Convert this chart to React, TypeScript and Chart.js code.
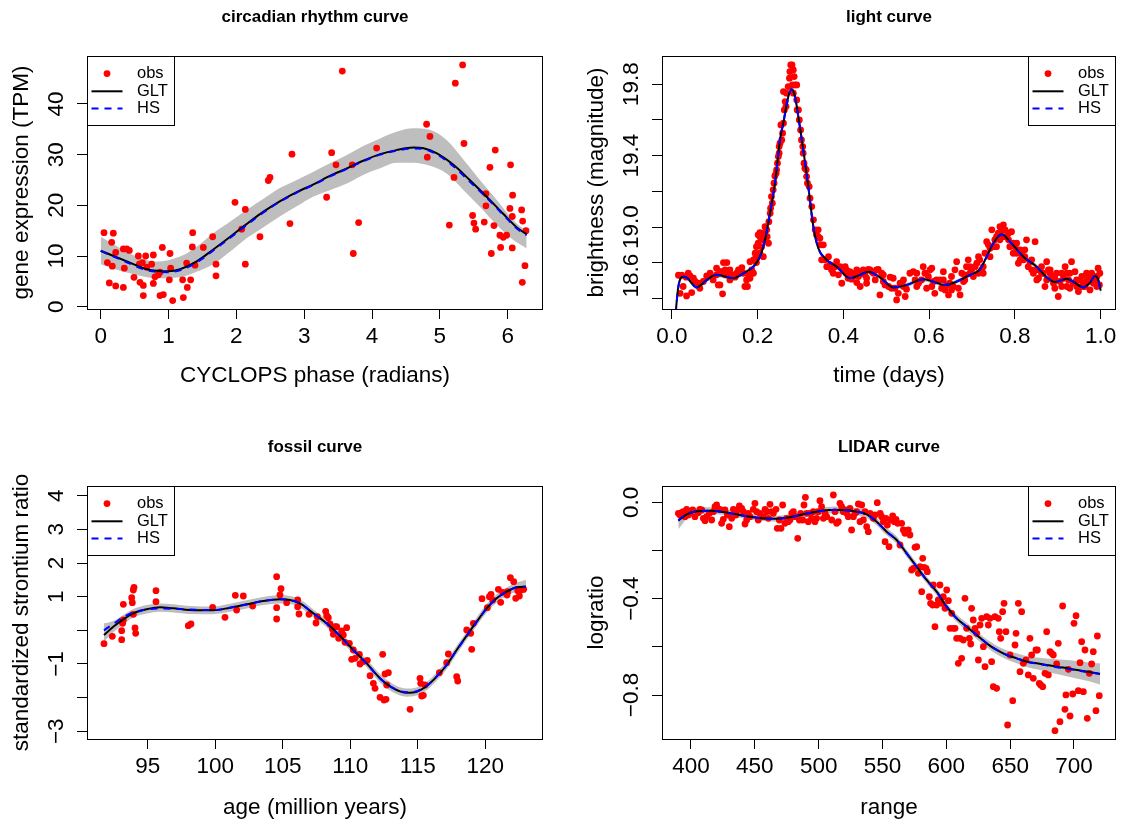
import React, { useEffect, useRef } from "react";
import { Chart, registerables } from "chart.js";

Chart.register(...registerables);

const FONT = "'Liberation Sans', Arial, Helvetica, sans-serif";
Chart.defaults.font.family = FONT;
Chart.defaults.color = "#000";

/* ===================== DATA ===================== */

// ---- circadian rhythm curve ----
const circadianObs: [number, number][] = [
  [0.049,14.6],[0.186,14.5],[0.162,12.7],[0.098,8.7],[0.171,8.0],[0.127,4.7],[0.221,4.1],[0.334,3.8],
  [0.221,10.7],[0.334,11.4],[0.383,11.4],[0.422,11.1],[0.348,7.6],[0.491,5.8],[0.555,10.0],[0.57,8.4],
  [0.579,4.8],[0.628,4.2],[0.628,2.2],[0.663,10.0],[0.614,8.7],[0.678,7.8],[0.751,8.4],[0.776,10.2],
  [0.776,4.6],[0.8,5.9],[0.85,6.3],[0.874,6.8],[0.874,2.2],[0.923,2.4],[0.909,11.7],[1.012,5.3],
  [1.022,10.5],[1.031,7.6],[1.061,1.2],[1.208,5.3],[1.218,1.8],[1.267,8.6],[1.277,3.8],[1.326,5.3],
  [1.356,14.6],[1.351,11.8],[1.39,8.2],[1.513,11.7],[1.651,13.8],[1.7,8.4],[1.7,6.1],[1.98,20.6],
  [2.078,15.3],[2.132,19.2],[2.132,8.4],[2.348,13.8],[2.471,24.9],[2.496,25.5],[2.79,16.4],[2.82,30.1],
  [3.331,21.6],[3.405,30.4],[3.469,28.0],[3.562,46.5],[3.709,28.0],[3.724,10.5],[3.803,16.6],[4.068,31.3],
  [4.805,36.0],[4.854,33.6],[4.815,29.5],[5.14,16.1],[5.209,25.5],[5.228,44.1],[5.336,47.7],[5.356,32.2],
  [5.483,18.0],[5.503,16.5],[5.528,15.3],[5.655,16.7],[5.68,22.3],[5.68,19.9],[5.739,27.5],[5.759,10.5],
  [5.798,16.0],[5.817,30.9],[5.886,14.1],[5.896,11.7],[5.935,13.7],[5.984,14.1],[6.033,19.4],[6.043,28.0],
  [6.068,17.8],[6.068,11.6],[6.073,22.0],[6.206,19.1],[6.221,16.9],[6.216,4.8],[6.255,8.1],[6.27,15.0],
];
const circadianFitX = [0,0.19,0.43,0.68,1.0,1.17,1.41,1.66,1.91,2.15,2.40,2.64,2.89,3.13,3.38,3.63,3.87,4.12,4.36,4.61,4.76,4.95,5.2,5.44,5.69,5.93,6.13,6.28];
const circadianGLT = [11.05,10.0,8.7,7.4,7.0,7.4,8.9,11.3,13.8,16.3,18.75,20.8,22.6,24.1,25.8,27.3,28.8,30.1,30.9,31.4,31.25,30.3,28.0,25.0,21.7,18.4,15.7,14.3];
const circadianHS = [11.0,9.9,8.5,7.2,6.8,7.2,8.7,11.1,13.6,16.1,18.6,20.7,22.5,24.0,25.7,27.2,28.7,30.0,30.8,31.2,31.1,30.1,27.7,24.7,21.5,18.2,15.5,14.1];
const circadianBandX = [0,0.19,0.43,0.825,1.17,1.41,1.66,1.91,2.15,2.40,2.64,2.89,3.13,3.38,3.63,3.87,4.12,4.36,4.61,4.85,5.1,5.35,5.59,5.84,6.08,6.28];
const circadianBandLo = [8.4,7.5,6.6,5.6,5.8,6.9,8.4,10.9,13.5,15.7,17.8,19.8,21.7,23.0,24.3,26.0,27.3,28.4,28.4,27.8,26.3,23.0,19.7,16.1,13.2,11.5];
const circadianBandHi = [13.8,12.3,10.5,8.9,9.9,11.8,14.5,16.8,19.1,21.3,23.4,25.0,26.6,28.3,29.95,31.7,33.2,34.5,35.2,34.9,32.9,29.0,25.0,21.05,17.1,14.8];
const circadianXTicks = [0,1,2,3,4,5,6];
const circadianXLabels = ["0","1","2","3","4","5","6"];
const circadianYTicks = [0,10,20,30,40];
const circadianYLabels = ["0","10","20","30","40"];

// ---- light curve ----
const lightObs: [number, number][] = [
  [0.015,18.731],[0.023,18.731],[0.033,18.72],[0.042,18.727],[0.026,18.668],[0.034,18.615],[0.046,18.634],[0.019,18.63],
  [0.05,18.714],[0.054,18.696],[0.061,18.686],[0.038,18.742],[0.065,18.658],[0.073,18.696],[0.081,18.727],[0.089,18.742],
  [0.096,18.705],[0.104,18.733],[0.108,18.677],[0.116,18.751],[0.12,18.802],[0.128,18.802],[0.124,18.761],[0.131,18.742],
  [0.135,18.705],[0.118,18.627],[0.112,18.677],[0.143,18.733],[0.151,18.742],[0.159,18.761],[0.163,18.774],[0.166,18.742],
  [0.17,18.668],[0.174,18.705],[0.178,18.733],[0.182,18.714],[0.186,18.761],[0.19,18.817],[0.197,18.802],[0.194,18.854],
  [0.197,18.891],[0.201,18.91],[0.205,18.947],[0.209,18.966],[0.213,18.929],[0.221,18.985],[0.225,18.91],[0.217,18.957],
  [0.205,18.854],[0.213,18.835],[0.205,18.97],
  [0.229,19.078],[0.23,19.106],[0.232,19.171],[0.236,19.209],[0.238,19.246],[0.24,19.287],[0.243,19.302],[0.244,19.321],
  [0.248,19.395],[0.25,19.451],[0.252,19.47],[0.256,19.488],[0.254,19.572],[0.26,19.582],[0.262,19.656],[0.264,19.703],
  [0.26,19.759],[0.267,19.75],[0.271,19.787],[0.274,19.834],[0.275,19.871],[0.277,19.908],[0.28,19.908],[0.283,19.88],
  [0.281,19.796],[0.287,19.796],[0.291,19.796],[0.283,19.75],[0.291,19.712],[0.292,19.656],[0.297,19.6],[0.3,19.544],
  [0.302,19.488],[0.306,19.414],[0.308,19.358],[0.31,19.33],[0.314,19.283],[0.316,19.246],[0.32,19.227],[0.322,19.162],
  [0.334,18.985],[0.337,18.957],[0.341,18.985],[0.345,18.938],[0.353,18.901],[0.349,18.817],[0.357,18.817],[0.361,18.779],
  [0.369,18.789],[0.372,18.761],[0.376,18.742],[0.38,18.779],[0.384,18.807],[0.388,18.733],[0.392,18.779],[0.4,18.758],
  [0.404,18.779],[0.407,18.742],[0.411,18.714],[0.415,18.751],[0.419,18.709],[0.423,18.724],[0.427,18.742],[0.431,18.69],
  [0.435,18.724],[0.439,18.668],[0.442,18.742],[0.446,18.761],[0.45,18.733],[0.454,18.714],[0.458,18.764],[0.462,18.761],
  [0.466,18.751],[0.47,18.742],[0.474,18.705],[0.477,18.761],[0.481,18.764],[0.485,18.621],[0.489,18.742],[0.493,18.696],
  [0.497,18.677],[0.505,18.668],[0.509,18.72],[0.512,18.658],[0.516,18.714],[0.52,18.658],[0.524,18.593],[0.528,18.63],
  [0.532,18.686],[0.54,18.668],[0.544,18.612],[0.547,18.653],[0.555,18.742],[0.563,18.751],[0.567,18.705],[0.571,18.668],
  [0.575,18.686],[0.582,18.705],[0.586,18.779],[0.59,18.742],[0.594,18.658],[0.598,18.724],[0.602,18.761],[0.606,18.77],
  [0.61,18.696],[0.613,18.63],[0.617,18.705],[0.625,18.705],[0.629,18.658],[0.633,18.751],[0.637,18.649],[0.641,18.677],
  [0.645,18.621],[0.648,18.686],[0.652,18.724],[0.656,18.668],[0.66,18.761],[0.664,18.807],[0.668,18.658],[0.672,18.621],
  [0.676,18.742],[0.68,18.696],[0.683,18.733],[0.687,18.779],[0.691,18.817],[0.695,18.742],[0.699,18.761],[0.703,18.724],
  [0.707,18.779],[0.711,18.798],[0.715,18.835],[0.718,18.817],[0.722,18.761],[0.726,18.779],[0.73,18.854],[0.734,18.919],
  [0.738,18.901],[0.742,18.882],[0.746,18.985],[0.75,18.891],[0.753,18.929],[0.757,18.947],[0.761,18.966],[0.765,19.003],
  [0.769,18.985],[0.773,19.013],[0.777,18.985],[0.781,18.947],[0.785,18.929],[0.788,18.891],[0.792,18.975],[0.796,18.91],
  [0.8,18.891],[0.804,18.854],[0.808,18.798],[0.812,18.873],[0.816,18.845],[0.82,18.817],[0.823,18.873],[0.827,18.929],
  [0.831,18.779],[0.835,18.807],[0.839,18.761],[0.843,18.742],[0.847,18.919],[0.851,18.705],[0.855,18.714],[0.858,18.761],
  [0.862,18.779],[0.866,18.742],[0.87,18.668],[0.874,18.807],[0.878,18.761],[0.882,18.742],[0.886,18.724],[0.89,18.686],
  [0.893,18.658],[0.897,18.742],[0.901,18.612],[0.905,18.696],[0.909,18.668],[0.913,18.714],[0.917,18.779],[0.921,18.742],
  [0.925,18.705],[0.928,18.658],[0.932,18.807],[0.936,18.686],[0.94,18.751],[0.944,18.668],[0.948,18.64],[0.952,18.705],
  [0.956,18.724],[0.96,18.686],[0.963,18.668],[0.967,18.696],[0.971,18.714],[0.975,18.649],[0.979,18.742],[0.983,18.686],
  [0.987,18.696],[0.991,18.724],[0.994,18.77],[0.998,18.742],[0.997,18.677],
  [0.104,18.77],[0.112,18.751],[0.124,18.733],[0.135,18.761],[0.147,18.72],[0.155,18.761],[0.176,18.668],[0.19,18.742],
  [0.182,18.807],[0.196,18.835],[0.201,18.957],[0.209,18.891],[0.217,19.003],[0.222,18.947],[0.226,19.031],[0.234,19.134],
  [0.246,19.358],[0.25,19.414],[0.258,19.526],[0.266,19.675],[0.285,19.843],[0.295,19.656],[0.305,19.451],[0.313,19.321],
  [0.326,19.115],[0.33,19.041],[0.341,18.947],[0.347,18.901],[0.365,18.835],[0.375,18.779],[0.396,18.686],[0.407,18.761],
  [0.431,18.761],[0.454,18.686],[0.493,18.733],[0.54,18.705],[0.571,18.742],[0.606,18.668],[0.633,18.705],[0.652,18.649],
  [0.683,18.705],[0.695,18.779],[0.715,18.742],[0.726,18.742],[0.742,18.835],[0.757,18.891],[0.765,18.929],[0.773,18.947],
  [0.785,18.966],[0.796,18.854],[0.804,18.91],[0.812,18.817],[0.823,18.835],[0.839,18.817],[0.851,18.761],[0.862,18.742],
  [0.874,18.705],[0.882,18.761],[0.893,18.714],[0.909,18.742],[0.921,18.668],[0.928,18.742],[0.944,18.705],[0.956,18.668],
  [0.967,18.742],[0.983,18.724],[0.991,18.668],
];
const lightFitX = [0.006,0.0148,0.0264,0.034,0.0575,0.0809,0.1042,0.143,0.1664,0.1897,0.2053,0.217,0.2286,0.2403,0.2519,0.2597,0.2714,0.2791,0.2869,0.2947,0.3064,0.318,0.3297,0.3413,0.3608,0.3841,0.4152,0.4385,0.458,0.4852,0.5163,0.5474,0.5863,0.6096,0.6368,0.664,0.6951,0.7185,0.734,0.7496,0.769,0.7884,0.8195,0.8506,0.874,0.8934,0.9206,0.9362,0.9595,0.975,0.9867,0.9945,1.0];
const lightGLT = [18.45,18.667,18.723,18.719,18.663,18.704,18.733,18.714,18.742,18.779,18.835,18.929,19.078,19.246,19.488,19.582,19.731,19.772,19.731,19.619,19.432,19.227,19.003,18.882,18.817,18.779,18.714,18.733,18.751,18.719,18.663,18.676,18.708,18.695,18.676,18.695,18.733,18.764,18.835,18.910,18.960,18.919,18.835,18.779,18.719,18.693,18.712,18.695,18.663,18.689,18.727,18.705,18.645];
const lightHS = [18.44,18.665,18.722,18.718,18.664,18.703,18.732,18.715,18.741,18.778,18.834,18.93,19.08,19.248,19.49,19.584,19.732,19.771,19.729,19.617,19.43,19.226,19.004,18.883,18.816,18.778,18.715,18.732,18.75,18.718,18.664,18.677,18.707,18.694,18.677,18.696,18.732,18.763,18.834,18.911,18.958,18.918,18.834,18.778,18.72,18.694,18.711,18.694,18.664,18.69,18.726,18.704,18.64];
const lightBandLo = [18.42,18.652,18.71,18.706,18.652,18.692,18.721,18.703,18.731,18.767,18.822,18.915,19.062,19.229,19.47,19.565,19.713,19.754,19.713,19.601,19.415,19.211,18.989,18.869,18.805,18.767,18.702,18.721,18.739,18.707,18.651,18.664,18.696,18.683,18.664,18.683,18.721,18.752,18.822,18.897,18.946,18.905,18.822,18.766,18.706,18.68,18.699,18.682,18.648,18.673,18.71,18.686,18.615];
const lightBandHi = [18.48,18.682,18.736,18.732,18.674,18.716,18.745,18.725,18.753,18.791,18.848,18.943,19.094,19.263,19.506,19.599,19.749,19.79,19.749,19.637,19.449,19.243,19.017,18.895,18.829,18.791,18.726,18.745,18.763,18.731,18.675,18.688,18.72,18.707,18.688,18.707,18.745,18.776,18.848,18.923,18.974,18.933,18.848,18.792,18.732,18.706,18.725,18.708,18.678,18.705,18.744,18.724,18.675];
const lightXTicks = [0,0.2,0.4,0.6,0.8,1.0];
const lightXLabels = ["0.0","0.2","0.4","0.6","0.8","1.0"];
// the "18.6" label sits a little above its tick in the original figure
const lightYTicks = [18.6,18.729,18.8,19.0,19.2,19.4,19.6,19.8];
const lightYLabels = ["","18.6","","19.0","","19.4","","19.8"];

// ---- fossil curve ----
const fossilObs: [number, number][] = [
  [91.764,-0.396],[92.381,-0.178],[93.072,-0.277],[93.072,-0.010],[93.146,0.208],[93.196,0.307],[93.196,0.772],[93.813,0.970],
  [93.862,0.822],[93.936,1.198],[93.986,1.277],[94.06,0.069],[94.109,-0.089],[93.936,0.475],[95.613,1.178],[95.613,0.851],
  [98.007,0.138],[98.205,0.188],[99.81,0.683],[100.723,0.386],[101.489,1.040],[101.587,0.604],[102.081,1.020],[102.772,0.723],
  [104.549,1.594],[104.549,0.673],[104.549,0.337],[104.796,1.050],[104.872,1.238],[105.291,0.822],[106.106,0.901],[106.106,0.703],
  [106.205,0.485],[106.946,0.475],[107.464,0.218],[107.563,0.406],[108.18,0.564],[108.254,0.436],[108.377,0.376],[108.5,0.188],
  [108.673,0.039],[108.747,-0.119],[108.87,0.109],[108.994,0.109],[109.142,-0.238],[109.364,-0.020],[109.488,-0.139],[109.735,0.079],
  [109.612,-0.357],[109.933,-0.386],[110.105,-0.862],[110.229,-0.585],[110.353,-0.832],[110.674,-0.714],[110.723,-1.0],[110.921,-0.931],
  [111.266,-0.892],[111.464,-1.347],[111.71,-1.575],[111.834,-1.724],[112.205,-1.991],[112.402,-0.714],[112.5,-2.070],[112.575,-1.298],
  [112.649,-2.050],[112.822,-1.258],[112.7,-1.625],[114.428,-2.348],[115.166,-1.426],[115.216,-1.575],[115.29,-1.951],[115.537,-1.625],
  [115.413,-1.932],[116.598,-1.258],[117.141,-0.961],[117.264,-0.704],[117.882,-1.377],[117.956,-1.506],[118.622,0.010],[118.918,-0.089],
  [118.992,-0.565],[119.116,0.208],[119.757,0.941],[120.153,0.673],[120.301,1.0],[120.424,1.069],[120.548,0.901],[121.14,0.832],
  [120.968,1.218],[121.289,1.129],[121.61,1.050],[121.66,1.149],[121.857,1.565],[122.104,1.446],[122.252,0.951],[122.4,1.178],
  [122.523,1.020],[122.647,1.198],[122.844,1.218],
];
const fossilFitX = [91.76,92.455,93.196,93.936,94.923,95.911,96.898,98.132,99.86,101.094,102.328,103.562,104.797,105.537,106.278,107.265,108.253,109.24,110.227,111.215,112.202,113.19,114.177,114.918,115.658,116.399,117.14,117.88,118.621,119.361,120.102,120.842,121.583,122.323,123.014];
const fossilGLT = [-0.139,0.109,0.327,0.505,0.624,0.683,0.653,0.604,0.594,0.673,0.772,0.871,0.921,0.901,0.802,0.505,0.208,-0.159,-0.585,-0.981,-1.426,-1.724,-1.852,-1.823,-1.655,-1.377,-1.03,-0.585,-0.159,0.257,0.653,0.951,1.149,1.278,1.298];
const fossilHS = [0.0,0.19,0.39,0.53,0.62,0.65,0.64,0.62,0.6,0.67,0.77,0.87,0.92,0.9,0.8,0.5,0.2,-0.17,-0.59,-0.99,-1.43,-1.72,-1.84,-1.81,-1.65,-1.37,-1.03,-0.59,-0.17,0.25,0.65,0.95,1.15,1.28,1.3];
const fossilBandLo = [-0.338,-0.06,0.187,0.38,0.5,0.555,0.53,0.485,0.48,0.55,0.65,0.75,0.80,0.78,0.68,0.385,0.09,-0.288,-0.70,-1.10,-1.55,-1.85,-1.97,-1.94,-1.78,-1.5,-1.16,-0.71,-0.28,0.13,0.52,0.83,1.02,1.13,1.12];
const fossilBandHi = [0.207,0.28,0.455,0.63,0.75,0.8,0.775,0.723,0.71,0.79,0.89,0.99,1.05,1.02,0.92,0.62,0.32,-0.04,-0.47,-0.86,-1.3,-1.6,-1.73,-1.70,-1.53,-1.25,-0.9,-0.46,-0.04,0.38,0.78,1.07,1.27,1.42,1.496];
const fossilXTicks = [95,100,105,110,115,120];
const fossilXLabels = ["95","100","105","110","115","120"];
const fossilYTicks = [-3,-2,-1,0,1,2,3,4];
const fossilYLabels = ["\u22123","","\u22121","","1","2","3","4"];

// ---- LIDAR curve ----
const lidarObs: [number, number][] = [
  [390.1,-0.0458],[391.4,-0.0527],[392.7,-0.043],[394.0,-0.0389],[395.3,-0.0596],[396.6,-0.0292],[397.9,-0.0527],[399.2,-0.043],
  [401.3,-0.032],[403.1,-0.0596],[405.7,-0.043],[407.0,-0.0292],[408.4,-0.032],[409.7,-0.0666],[411.0,-0.0762],[412.3,-0.0596],
  [414.4,-0.0458],[416.2,-0.0735],[417.5,-0.0389],[418.8,-0.0181],[420.1,-0.0112],[422.7,-0.0292],[424.0,-0.0873],[425.3,-0.0707],
  [426.6,-0.032],[428.5,-0.0527],[430.0,-0.1011],[431.9,-0.0666],[433.2,-0.0292],[435.2,-0.0527],[436.3,-0.032],[437.9,-0.0154],
  [439.7,-0.0251],[441.0,-0.0389],[442.3,-0.0901],[443.6,-0.0735],[444.9,-0.0458],[446.2,-0.0596],[448.8,-0.0292],[450.1,-0.0043],
  [451.4,-0.0389],[452.7,-0.0735],[454.0,-0.0458],[456.7,-0.0596],[458.0,-0.0292],[459.3,-0.0389],[460.6,-0.0666],[461.9,-0.0084],
  [463.2,-0.0389],[464.5,-0.0458],[466.6,-0.0292],[467.6,-0.1081],[469.2,-0.0735],[470.5,-0.1081],[471.8,-0.0112],[473.6,-0.0873],
  [474.9,-0.0666],[476.2,-0.0804],[477.5,-0.0735],[478.9,-0.0458],[480.2,-0.0389],[481.5,-0.0596],[483.6,-0.1496],[484.9,-0.0735],
  [485.9,-0.0458],[487.5,-0.0735],[488.5,-0.0112],[489.6,0.0206],[490.6,-0.0458],[491.9,-0.0804],[493.2,-0.0458],[494.5,-0.0666],
  [495.8,-0.0389],[497.1,-0.0804],[498.4,-0.0666],[499.7,-0.0389],[501.0,0.0068],[502.3,-0.0181],[503.7,-0.0666],[505.0,-0.0458],
  [506.3,-0.0596],[510.2,-0.0735],[511.5,0.0303],[512.8,-0.0389],[514.1,-0.0873],[515.4,-0.0804],[516.7,-0.0043],[518.0,-0.0181],
  [519.3,-0.0389],[520.6,-0.032],[521.9,-0.0458],[523.2,-0.0596],[524.5,-0.0251],[525.8,-0.115],[527.2,-0.0596],[528.5,-0.0458],
  [529.8,-0.0389],[531.1,-0.0071],[532.4,-0.0804],[533.7,-0.0112],[535.0,-0.0735],[536.3,-0.0389],[537.6,-0.1011],[538.9,-0.1219],
  [540.2,-0.0458],[542.8,-0.0666],[544.1,-0.0527],[545.9,-0.0015],[548.2,-0.0458],[549.3,-0.0596],[550.7,-0.0804],[552.0,-0.1634],
  [552.7,-0.0666],[553.8,-0.0942],[555.1,-0.1842],[556.4,-0.0735],[558.0,-0.0569],[559.3,-0.0804],[560.6,-0.0707],[561.9,-0.0873],
  [563.7,-0.1772],[565.0,-0.0873],[566.3,-0.115],[567.6,-0.1288],[568.9,-0.1219],[570.2,-0.115],[571.5,-0.1357],[572.8,-0.2811],
  [574.2,-0.2741],[575.5,-0.1869],[576.8,-0.1842],[578.1,-0.2949],[579.4,-0.2672],[580.7,-0.3709],[581.5,-0.2326],[582.5,-0.27],
  [584.1,-0.2741],[585.1,-0.2879],[586.7,-0.3917],[587.7,-0.4194],[589.3,-0.4263],[589.8,-0.3432],[591.1,-0.5162],[592.4,-0.4263],
  [593.7,-0.4055],[595.0,-0.3432],[596.3,-0.4194],[597.6,-0.3917],[599.0,-0.4402],[600.3,-0.3641],[601.6,-0.4083],[602.9,-0.5232],
  [604.2,-0.4609],[605.5,-0.5232],[606.8,-0.5232],[608.1,-0.5647],[609.4,-0.6684],[610.7,-0.5647],[612.0,-0.6477],[613.3,-0.5716],
  [614.6,-0.3986],[615.9,-0.5232],[618.0,-0.5647],[619.1,-0.5882],[619.8,-0.4402],[621.1,-0.4886],[622.5,-0.5232],[623.8,-0.5439],
  [625.1,-0.6546],[626.4,-0.5093],[627.7,-0.4816],[629.0,-0.5993],[630.3,-0.6823],[631.6,-0.4747],[632.9,-0.5093],[634.2,-0.4816],
  [635.5,-0.6616],[636.8,-0.7652],[638.1,-0.4747],[639.4,-0.7721],[640.7,-0.4816],[641.5,-0.537],[642.6,-0.5647],[644.1,-0.4539],
  [645.2,-0.4194],[646.7,-0.537],[648.0,-0.9245],[649.9,-0.6339],[652.0,-0.8234],[653.8,-0.5924],[654.6,-0.5439],[656.4,-0.4194],
  [657.7,-0.7031],[659.0,-0.4539],[660.3,-0.6684],[662.4,-0.6546],[664.2,-0.7168],[665.5,-0.5647],[666.8,-0.6339],[668.1,-0.7307],
  [670.2,-0.6131],[671.3,-0.6131],[672.8,-0.7515],[673.9,-0.7583],[675.5,-0.7652],[677.3,-0.7099],[678.6,-0.537],[679.9,-0.7168],
  [681.2,-0.62],[682.5,-0.627],[683.8,-0.6339],[685.1,-0.948],[686.4,-0.6712],[687.7,-0.5855],[689.0,-0.9107],[691.1,-0.4305],
  [692.9,-0.8594],[693.7,-0.7998],[695.6,-0.6933],[696.9,-0.8871],[699.0,-0.7957],[700.0,-0.5024],[701.6,-0.4706],[703.4,-0.7818],
  [704.7,-0.6657],[706.0,-0.5785],[707.3,-0.786],[708.6,-0.6131],[710.4,-0.8968],[712.0,-0.7099],[713.8,-0.6712],[715.1,-0.62],
  [717.2,-0.8649],[718.3,-0.555],[719.8,-0.8026],
];
const lidarFitX = [390.08,396.6,404.44,414.88,425.33,435.77,446.21,456.66,467.1,477.55,487.99,498.43,508.88,519.32,529.77,537.6,545.43,553.26,561.1,568.93,576.76,584.6,592.43,600.26,608.09,615.93,623.76,631.59,639.43,647.26,655.09,662.92,670.76,678.59,686.42,696.87,707.31,717.75,720.37];
const lidarGLT = [-0.0762,-0.050,-0.0375,-0.0347,-0.0403,-0.050,-0.0597,-0.0666,-0.0679,-0.0624,-0.050,-0.0389,-0.0320,-0.0320,-0.0389,-0.050,-0.0804,-0.1219,-0.1565,-0.2118,-0.2672,-0.3225,-0.371,-0.4332,-0.4817,-0.5163,-0.5509,-0.5855,-0.613,-0.6338,-0.6477,-0.6615,-0.6684,-0.6753,-0.6823,-0.6906,-0.7003,-0.7100,-0.7127];
const lidarHS = [-0.0745,-0.049,-0.0372,-0.035,-0.041,-0.0505,-0.06,-0.0668,-0.0678,-0.0622,-0.0498,-0.0388,-0.0322,-0.0323,-0.0392,-0.0505,-0.081,-0.1225,-0.157,-0.212,-0.2675,-0.3228,-0.3712,-0.4332,-0.4815,-0.516,-0.5505,-0.585,-0.6125,-0.6335,-0.6478,-0.662,-0.6695,-0.677,-0.6845,-0.693,-0.702,-0.7105,-0.7125];
const lidarBandLo = [-0.112,-0.070,-0.052,-0.048,-0.053,-0.062,-0.071,-0.078,-0.080,-0.075,-0.063,-0.052,-0.046,-0.047,-0.054,-0.065,-0.096,-0.137,-0.172,-0.227,-0.282,-0.337,-0.386,-0.448,-0.497,-0.532,-0.567,-0.602,-0.631,-0.653,-0.668,-0.684,-0.693,-0.703,-0.713,-0.725,-0.738,-0.752,-0.757];
const lidarBandHi = [-0.046,-0.030,-0.023,-0.021,-0.027,-0.038,-0.048,-0.055,-0.056,-0.050,-0.037,-0.026,-0.018,-0.017,-0.024,-0.035,-0.065,-0.107,-0.141,-0.197,-0.252,-0.308,-0.356,-0.418,-0.466,-0.500,-0.535,-0.569,-0.595,-0.614,-0.627,-0.639,-0.644,-0.648,-0.652,-0.656,-0.662,-0.668,-0.668];
const lidarXTicks = [400,450,500,550,600,650,700];
const lidarXLabels = ["400","450","500","550","600","650","700"];
const lidarYTicks = [-0.8,-0.6,-0.4,-0.2,0];
const lidarYLabels = ["\u22120.8","","\u22120.4","","0.0"];

const legendItems = ["obs", "GLT", "HS"];

/* ===================== STYLE / LAYOUT ===================== */

const RED = "#FF0000";
const BAND = "#BEBEBE";
const BLUE = "#0000FF";
const AXIS_FONT = 22.5;
const TITLE_FONT = 17;
const LEGEND_FONT = 16.5;
const TICK_LEN = 10;

type Area = { l: number; t: number; r: number; b: number };
interface PanelSpec {
  id: string;
  left: number; top: number; width: number; height: number;
  area: Area;
  title: string; titleY: number;
  xTitle: string; xTitleY: number;
  yTitle: string;
  xMin: number; xMax: number; yMin: number; yMax: number;
  xTicks: number[]; xLabels: string[]; yTicks: number[]; yLabels: string[];
  hiddenYTick?: number;
  obs: [number, number][];
  fitX: number[]; glt: number[]; hs: number[];
  lo: number[]; hi: number[]; bandX: number[];
  legendSide: "left" | "right";
}

const PANELS: PanelSpec[] = [
  {
    id: "circ", left: 0, top: 0, width: 560, height: 412,
    area: { l: 87, t: 56, r: 543, b: 309 },
    title: "circadian rhythm curve", titleY: 17,
    xTitle: "CYCLOPS phase (radians)", xTitleY: 376,
    yTitle: "gene expression (TPM)",
    xMin: -0.202, xMax: 6.521, yMin: -0.454, yMax: 49.47,
    xTicks: circadianXTicks, xLabels: circadianXLabels, yTicks: circadianYTicks, yLabels: circadianYLabels,
    obs: circadianObs, fitX: circadianFitX, glt: circadianGLT, hs: circadianHS,
    bandX: circadianBandX, lo: circadianBandLo, hi: circadianBandHi, legendSide: "left",
  },
  {
    id: "light", left: 560, top: 0, width: 561, height: 412,
    area: { l: 102, t: 56, r: 556, b: 309 },
    title: "light curve", titleY: 17,
    xTitle: "time (days)", xTitleY: 376,
    yTitle: "brightness (magnitude)",
    xMin: -0.0233, xMax: 1.0357, yMin: 18.542, yMax: 19.958,
    xTicks: lightXTicks, xLabels: lightXLabels, yTicks: lightYTicks, yLabels: lightYLabels, hiddenYTick: 1,
    obs: lightObs, fitX: lightFitX, glt: lightGLT, hs: lightHS,
    bandX: lightFitX, lo: lightBandLo, hi: lightBandHi, legendSide: "right",
  },
  {
    id: "fossil", left: 0, top: 412, width: 560, height: 411,
    area: { l: 87, t: 74, r: 543, b: 327 },
    title: "fossil curve", titleY: 35,
    xTitle: "age (million years)", xTitleY: 396,
    yTitle: "standardized strontium ratio",
    xMin: 90.505, xMax: 124.273, yMin: -3.229, yMax: 4.288,
    xTicks: fossilXTicks, xLabels: fossilXLabels, yTicks: fossilYTicks, yLabels: fossilYLabels,
    obs: fossilObs, fitX: fossilFitX, glt: fossilGLT, hs: fossilHS,
    bandX: fossilFitX, lo: fossilBandLo, hi: fossilBandHi, legendSide: "left",
  },
  {
    id: "lidar", left: 560, top: 412, width: 561, height: 411,
    area: { l: 102, t: 74, r: 556, b: 327 },
    title: "LIDAR curve", titleY: 35,
    xTitle: "range", xTitleY: 396,
    yTitle: "logratio",
    xMin: 377.29, xMax: 732.9, yMin: -0.9826, yMax: 0.0677,
    xTicks: lidarXTicks, xLabels: lidarXLabels, yTicks: lidarYTicks, yLabels: lidarYLabels,
    obs: lidarObs, fitX: lidarFitX, glt: lidarGLT, hs: lidarHS,
    bandX: lidarFitX, lo: lidarBandLo, hi: lidarBandHi, legendSide: "right",
  },
];

function zip(xs: number[], ys: number[]) {
  const n = Math.min(xs.length, ys.length);
  const out: { x: number; y: number }[] = [];
  for (let i = 0; i < n; i++) out.push({ x: xs[i], y: ys[i] });
  return out;
}

function textWidth(s: string, size: number) {
  const c = document.createElement("canvas").getContext("2d")!;
  c.font = `normal ${size}px ${FONT}`;
  return c.measureText(s).width;
}

function makeDecor(p: PanelSpec) {
  return {
    id: "rDecor_" + p.id,
    afterDraw(chart: any) {
      const { ctx, chartArea: a } = chart;
      ctx.save();
      // plot box
      ctx.strokeStyle = "#000";
      ctx.lineWidth = 1;
      ctx.setLineDash([]);
      ctx.strokeRect(a.left + 0.5, a.top + 0.5, a.right - a.left - 1, a.bottom - a.top);

      // y axis title
      ctx.save();
      ctx.translate(a.left - 65, (a.top + a.bottom) / 2);
      ctx.rotate(-Math.PI / 2);
      ctx.font = `normal ${AXIS_FONT}px ${FONT}`;
      ctx.fillStyle = "#000";
      ctx.textAlign = "center";
      ctx.textBaseline = "middle";
      ctx.fillText(p.yTitle, 0, 0);
      ctx.restore();

      // legend
      const lw = 88, lh = 70;
      const lx = p.legendSide === "left" ? a.left : a.right - lw;
      const ly = a.top;
      ctx.fillStyle = "#fff";
      ctx.fillRect(lx, ly, lw, lh);
      ctx.strokeStyle = "#000";
      ctx.lineWidth = 1;
      ctx.strokeRect(lx + 0.5, ly + 0.5, lw - 1, lh - 1);
      const rows = [ly + 17.6, ly + 35.3, ly + 52.6];
      ctx.fillStyle = RED;
      ctx.beginPath();
      ctx.arc(lx + 20, rows[0], 3.4, 0, Math.PI * 2);
      ctx.fill();
      ctx.lineWidth = 2;
      ctx.strokeStyle = "#000";
      ctx.beginPath();
      ctx.moveTo(lx + 4.5, rows[1]);
      ctx.lineTo(lx + 35.5, rows[1]);
      ctx.stroke();
      ctx.strokeStyle = BLUE;
      ctx.setLineDash([7, 6]);
      ctx.beginPath();
      ctx.moveTo(lx + 4.5, rows[2]);
      ctx.lineTo(lx + 35.5, rows[2]);
      ctx.stroke();
      ctx.setLineDash([]);
      ctx.fillStyle = "#000";
      ctx.font = `normal ${LEGEND_FONT}px ${FONT}`;
      ctx.textAlign = "left";
      ctx.textBaseline = "middle";
      legendItems.forEach((t, i) => ctx.fillText(t, lx + 50, rows[i]));
      ctx.restore();
    },
  };
}

function buildConfig(p: PanelSpec): any {
  const a = p.area;
  const widest = Math.max(...p.yLabels.map((s) => (s ? textWidth(s, AXIS_FONT) : 0)));
  const yPad = 30 - TICK_LEN - widest / 2;
  const xLabelPad = 28 - TICK_LEN - (AXIS_FONT * 1.2) / 2;
  const xTitlePad = Math.max(0, p.height - p.xTitleY - (AXIS_FONT * 1.2) / 2);
  const titleLH = TITLE_FONT * 1.2;
  const titlePadTop = p.titleY - titleLH / 2;
  const titlePadBottom = a.t - titlePadTop - titleLH;

  return {
    type: "line",
    data: {
      datasets: [
        {
          type: "line", label: "band-lo", data: zip(p.bandX, p.lo),
          borderWidth: 0, borderColor: "rgba(0,0,0,0)", pointRadius: 0,
          fill: false, cubicInterpolationMode: "monotone", order: 4,
        },
        {
          type: "line", label: "band-hi", data: zip(p.bandX, p.hi),
          borderWidth: 0, borderColor: "rgba(0,0,0,0)", pointRadius: 0,
          fill: "-1", backgroundColor: BAND, cubicInterpolationMode: "monotone", order: 3,
        },
        {
          type: "scatter", label: "obs", data: p.obs.map(([x, y]) => ({ x, y })),
          pointRadius: 3.4, pointBackgroundColor: RED, pointBorderWidth: 0,
          showLine: false, order: 2,
        },
        {
          type: "line", label: "GLT", data: zip(p.fitX, p.glt),
          borderColor: "#000", borderWidth: 2, pointRadius: 0, fill: false,
          cubicInterpolationMode: "monotone", order: 1,
        },
        {
          type: "line", label: "HS", data: zip(p.fitX, p.hs),
          borderColor: BLUE, borderWidth: 2, borderDash: [7, 6], pointRadius: 0, fill: false,
          cubicInterpolationMode: "monotone", order: 0,
        },
      ],
    },
    options: {
      animation: false,
      responsive: false,
      maintainAspectRatio: false,
      devicePixelRatio: 1,
      events: [],
      layout: { autoPadding: false, padding: { left: 0, top: 0, right: p.width - a.r, bottom: 0 } },
      plugins: {
        legend: { display: false },
        tooltip: { enabled: false },
        title: {
          display: true, text: p.title, fullSize: false, color: "#000",
          font: { size: TITLE_FONT, weight: "bold", lineHeight: 1.2 },
          padding: { top: titlePadTop, bottom: titlePadBottom },
        },
      },
      scales: {
        x: {
          type: "linear", position: "bottom", min: p.xMin, max: p.xMax,
          afterBuildTicks: (s: any) => { s.ticks = p.xTicks.map((v) => ({ value: v })); },
          afterFit: (s: any) => {
            s.height = p.height - a.b;
            s.paddingLeft = 0; s.paddingRight = 0; s.paddingTop = 0; s.paddingBottom = 0;
          },
          ticks: {
            autoSkip: false, maxRotation: 0, minRotation: 0, color: "#000",
            font: { size: AXIS_FONT }, padding: xLabelPad,
            callback: (_v: any, i: number) => p.xLabels[i] ?? "",
          },
          grid: { drawOnChartArea: false, drawTicks: true, tickLength: TICK_LEN, tickColor: "#000", tickWidth: 1 },
          border: { display: false },
          title: {
            display: true, text: p.xTitle, color: "#000",
            font: { size: AXIS_FONT, lineHeight: 1.2 }, padding: { top: 0, bottom: xTitlePad },
          },
        },
        y: {
          type: "linear", position: "left", min: p.yMin, max: p.yMax,
          afterBuildTicks: (s: any) => { s.ticks = p.yTicks.map((v) => ({ value: v })); },
          afterFit: (s: any) => {
            s.width = a.l;
            s.paddingLeft = 0; s.paddingRight = 0; s.paddingTop = 0; s.paddingBottom = 0;
          },
          ticks: {
            autoSkip: false, minRotation: 90, maxRotation: 90, crossAlign: "center",
            color: "#000", font: { size: AXIS_FONT }, padding: yPad,
            callback: (_v: any, i: number) => p.yLabels[i] ?? "",
          },
          grid: {
            drawOnChartArea: false, drawTicks: true, tickLength: TICK_LEN, tickWidth: 1,
            tickColor: (ctx: any) => (p.hiddenYTick !== undefined && ctx.index === p.hiddenYTick ? "rgba(0,0,0,0)" : "#000"),
          },
          border: { display: false },
          title: { display: false },
        },
      },
    },
    plugins: [makeDecor(p)],
  };
}

function Panel({ p }: { p: PanelSpec }) {
  const ref = useRef<HTMLCanvasElement | null>(null);
  useEffect(() => {
    if (!ref.current) return;
    const chart = new Chart(ref.current, buildConfig(p));
    return () => chart.destroy();
  }, [p]);
  return (
    <canvas
      ref={ref}
      width={p.width}
      height={p.height}
      style={{ position: "absolute", left: p.left, top: p.top, width: p.width, height: p.height }}
    />
  );
}

export default function App() {
  return (
    <div style={{ position: "fixed", left: 0, top: 0, width: 1121, height: 823, background: "#fff", overflow: "hidden" }}>
      {PANELS.map((p) => (
        <Panel key={p.id} p={p} />
      ))}
    </div>
  );
}
